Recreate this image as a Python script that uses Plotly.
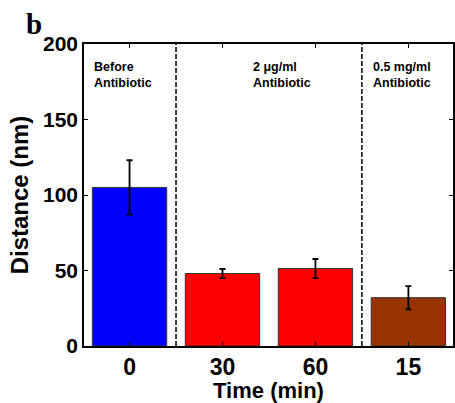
import plotly.graph_objects as go

# Data
time_labels = ["0", "30", "60", "15"]
distance_nm = [105, 48, 51.3, 32]
distance_err = [18, 3, 6.3, 7.7]
bar_colors = ["#0000FF", "#FF0000", "#FF0000", "#993300"]
group_labels = ["Before<br>Antibiotic", "2 \u03bcg/ml<br>Antibiotic", "0.5 mg/ml<br>Antibiotic"]
group_label_x = [0.6, 2.31, 3.6]
group_dividers = [1.5, 3.5]

positions = list(range(1, len(time_labels) + 1))
FONT = "Arial, Liberation Sans, Helvetica"

fig = go.Figure()
fig.add_trace(go.Bar(
    x=positions,
    y=distance_nm,
    width=0.8,
    marker=dict(color=bar_colors, line=dict(color="#333333", width=1)),
    error_y=dict(type="data", array=distance_err, visible=True,
                 color="black", thickness=1.8, width=3),
    showlegend=False,
))

for xd in group_dividers:
    fig.add_shape(type="line", xref="x", yref="paper", x0=xd, x1=xd, y0=0, y1=1,
                  line=dict(color="black", width=1.5, dash="5px,2px"))

for txt, gx in zip(group_labels, group_label_x):
    fig.add_annotation(x=gx, y=1.0, xref="x", yref="paper", yshift=-14,
                       text="<b>" + txt + "</b>",
                       showarrow=False, xanchor="left", yanchor="top", align="left",
                       font=dict(family=FONT, size=12.5, color="black"))

fig.add_annotation(x=-0.162, y=1.125, xref="paper", yref="paper", text="<b>b</b>",
                   showarrow=False, xanchor="left", yanchor="top",
                   font=dict(family="Times New Roman, Liberation Serif", size=29, color="black"))

fig.update_layout(
    width=455, height=403,
    margin=dict(l=84, r=0, t=44, b=57),
    paper_bgcolor="white", plot_bgcolor="white",
    font=dict(family=FONT, color="black"),
    xaxis=dict(
        range=[0.51, 4.48],
        tickvals=positions, ticktext=["<b>%s</b>" % t for t in time_labels],
        tickfont=dict(family=FONT, size=23, color="black"),
        ticks="inside", ticklen=4, tickcolor="black",
        showline=True, linecolor="black", linewidth=1.5, mirror="ticks",
        showgrid=False, zeroline=False,
        title=dict(text="<b>Time (min)</b>", font=dict(family=FONT, size=22), standoff=0),
    ),
    yaxis=dict(
        range=[0, 200],
        tickvals=[0, 50, 100, 150, 200],
        ticktext=["<b>%d</b>" % v for v in [0, 50, 100, 150, 200]],
        tickfont=dict(family=FONT, size=21, color="black"),
        ticks="inside", ticklen=4, tickcolor="black",
        showline=True, linecolor="black", linewidth=1.5, mirror="ticks",
        showgrid=False, zeroline=False,
        title=dict(text="<b>Distance (nm)</b>", font=dict(family=FONT, size=24), standoff=8),
    ),
)

fig.write_html("out.html")
